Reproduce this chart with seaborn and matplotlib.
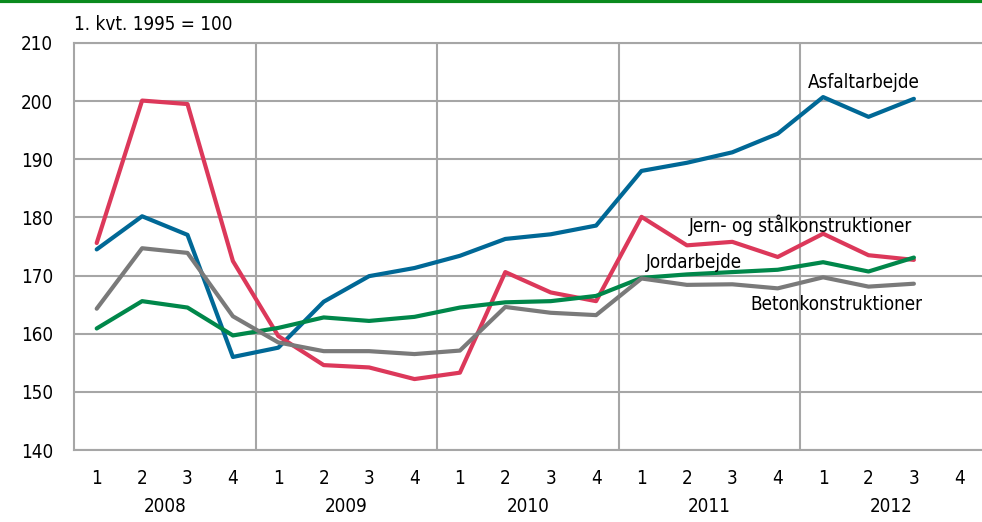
import pandas as pd
import seaborn as sns
import matplotlib.pyplot as plt
from matplotlib.lines import Line2D

# Kvartaler 2008-2012
years = ["2008", "2009", "2010", "2011", "2012"]
quarters = ["1", "2", "3", "4"]

asfalt = [174.5, 180.2, 177.0, 156.0, 157.6, 165.5, 169.9, 171.3, 173.4, 176.3,
          177.1, 178.6, 188.0, 189.4, 191.2, 194.4, 200.7, 197.3, 200.4]
jern = [175.6, 200.1, 199.5, 172.5, 159.6, 154.6, 154.2, 152.2, 153.3, 170.6,
        167.1, 165.6, 180.1, 175.2, 175.8, 173.2, 177.2, 173.5, 172.7]
jord = [160.9, 165.6, 164.5, 159.7, 161.0, 162.8, 162.2, 162.9, 164.5, 165.4,
        165.6, 166.5, 169.6, 170.2, 170.6, 171.0, 172.3, 170.7, 173.1]
beton = [164.3, 174.7, 173.9, 163.0, 158.5, 157.0, 157.0, 156.5, 157.1, 164.6,
         163.6, 163.2, 169.5, 168.4, 168.5, 167.8, 169.7, 168.1, 168.6]

series = {
    "Asfaltarbejde": asfalt,
    "Jern- og stålkonstruktioner": jern,
    "Jordarbejde": jord,
    "Betonkonstruktioner": beton,
}
colors = {
    "Asfaltarbejde": "#006896",
    "Jern- og stålkonstruktioner": "#dc385a",
    "Jordarbejde": "#00874a",
    "Betonkonstruktioner": "#7a7a7a",
}
# label placering (x-indeks, y-værdi)
label_pos = {
    "Asfaltarbejde": (16.9, 203.2),
    "Jern- og stålkonstruktioner": (15.5, 178.7),
    "Jordarbejde": (13.15, 172.2),
    "Betonkonstruktioner": (16.3, 165.0),
}

rows = []
for name, vals in series.items():
    for i, v in enumerate(vals):
        rows.append({"t": i, "værdi": v, "serie": name})
df = pd.DataFrame(rows)

sns.set_style("white")
plt.rcParams["font.family"] = ["DejaVu Sans"]
plt.rcParams["font.stretch"] = "condensed"
plt.rcParams["text.color"] = "black"

fs = 13.5
grid_col = "#a6a6a6"
fig = plt.figure(figsize=(9.82, 5.22), dpi=100)
ax = fig.add_axes([74 / 982, 1 - 450 / 522, 1 - 74 / 982, (450 - 43) / 522])

sns.lineplot(data=df, x="t", y="værdi", hue="serie", palette=colors,
             linewidth=3, legend=False, ax=ax, zorder=3)

ax.set_xlim(-0.5, 19.5)
ax.set_ylim(140, 210)
ax.set_yticks(range(140, 211, 10))
ax.yaxis.grid(True, color=grid_col, linewidth=1.5)
for xb in [3.5, 7.5, 11.5, 15.5]:
    ax.axvline(xb, color=grid_col, linewidth=1.5, zorder=1)

n = len(years) * len(quarters)
ax.set_xticks(range(n))
ax.set_xticklabels(quarters * len(years))
ax.tick_params(axis="both", length=0, labelsize=fs, colors="black")
ax.tick_params(axis="x", pad=14)
ax.tick_params(axis="y", pad=15)
ax.set_xlabel("")
ax.set_ylabel("")

for j, yr in enumerate(years):
    ax.text(j * 4 + 1.5, -0.14, yr, transform=ax.get_xaxis_transform(),
            ha="center", va="center", fontsize=fs)

for side in ["left", "bottom", "top"]:
    ax.spines[side].set_color(grid_col)
    ax.spines[side].set_linewidth(1.5)
ax.spines["right"].set_visible(False)

for name, (x, y) in label_pos.items():
    ax.text(x, y, name, ha="center", va="center", fontsize=fs, zorder=4)

ax.text(0, 1.045, "1. kvt. 1995 = 100", transform=ax.transAxes,
        ha="left", va="center", fontsize=fs)

# grøn linje i toppen
fig.add_artist(Line2D([0, 1], [0.998, 0.998], transform=fig.transFigure,
                      color="#0a8a1e", linewidth=3))

plt.savefig("out.png", dpi=100)
